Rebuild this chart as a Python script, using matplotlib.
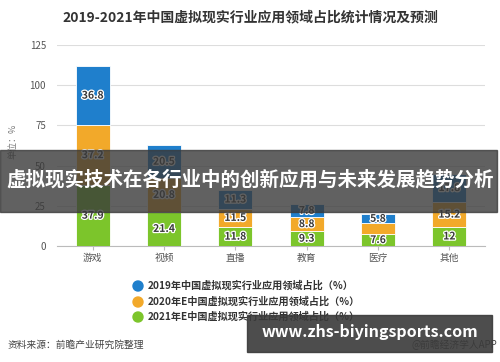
import matplotlib
matplotlib.use("Agg")
import matplotlib.pyplot as plt
import matplotlib.patheffects as pe
from matplotlib.patches import Rectangle, Ellipse
import numpy as np

plt.rcParams['font.family'] = ['Noto Sans CJK SC', 'DejaVu Sans']

categories = ['游戏', '视频', '直播', '教育', '医疗', '其他']
s2021 = [37.9, 21.4, 11.8, 9.3, 7.6, 12]
s2020 = [37.2, 20.8, 11.5, 8.8, 6.5, 15.2]
s2019 = [36.8, 20.5, 11.3, 7.8, 5.8, 17.8]
labels_2020 = ['37.2', '20.8', '11.5', '8.8', '', '15.2']
series_names = ['2019年中国虚拟现实行业应用领域占比（%）',
                '2020年E中国虚拟现实行业应用领域占比（%）',
                '2021年E中国虚拟现实行业应用领域占比（%）']
yticks = [0, 25, 50, 75, 100, 125]

c_blue = '#1f7fcc'
c_orange = '#f2a92a'
c_green = '#7cc52b'

fig = plt.figure(figsize=(5, 3.62), dpi=100)
ax = fig.add_axes([0.114, 0.320, 0.856, 0.556])

x = np.arange(len(categories))
w = 0.48
ax.bar(x, s2021, w, color=c_green, edgecolor='white', linewidth=0.6, zorder=3)
ax.bar(x, s2020, w, bottom=s2021, color=c_orange, edgecolor='white', linewidth=0.6, zorder=3)
bot3 = np.array(s2021) + np.array(s2020)
ax.bar(x, s2019, w, bottom=bot3, color=c_blue, edgecolor='white', linewidth=0.6, zorder=3)

fx = [pe.withStroke(linewidth=1.8, foreground='white')]
for i in range(len(categories)):
    ax.text(x[i], s2021[i] / 2, f'{s2021[i]:g}', ha='center', va='center', fontsize=7.5,
            fontweight='bold', color='#3a3a3a', path_effects=fx, zorder=4)
    if labels_2020[i]:
        ax.text(x[i], s2021[i] + s2020[i] / 2, labels_2020[i], ha='center', va='center',
                fontsize=7.5, fontweight='bold', color='#3a3a3a', path_effects=fx, zorder=4)
    ax.text(x[i], bot3[i] + s2019[i] / 2, f'{s2019[i]:g}', ha='center', va='center',
            fontsize=7.5, fontweight='bold', color='#3a3a3a', path_effects=fx, zorder=4)

ax.set_ylim(0, 125)
ax.set_xlim(-0.5, len(categories) - 0.5)
ax.set_yticks(yticks)
ax.set_xticks(x)
ax.set_xticklabels(categories)
ax.grid(axis='y', color='#dddddd', linewidth=0.8, zorder=0)
for s in ['top', 'right', 'left']:
    ax.spines[s].set_visible(False)
ax.spines['bottom'].set_color('#bbbbbb')
ax.tick_params(axis='y', length=0, labelsize=7, labelcolor='#555555', pad=8)
ax.tick_params(axis='x', length=3, color='#bbbbbb', labelsize=7, labelcolor='#555555', pad=2)

fig.text(0.026, 0.61, '单位：%', rotation=90, ha='center', va='center', fontsize=6.5, color='#777777')

fig.text(0.5, 0.953, '2019-2021年中国虚拟现实行业应用领域占比统计情况及预测', ha='center', va='center',
         fontsize=10, fontweight='bold', color='#333333')

# legend
leg_y = [286, 302, 317]
leg_c = [c_blue, c_orange, c_green]
for yy, cc, nm in zip(leg_y, leg_c, series_names):
    fy = 1 - yy / 362
    fig.patches.append(Ellipse((138 / 500, fy), 10 / 500, 10 / 362,
                               transform=fig.transFigure, color=cc))
    fig.text(148 / 500, fy, nm, ha='left', va='center', fontsize=7.3, fontweight='bold', color='#333333')

fig.text(8 / 500, 1 - 345 / 362, '资料来源：前瞻产业研究院整理', ha='left', va='center', fontsize=7, color='#444444')
fig.text(497 / 500, 1 - 345 / 362, '@前瞻经济学人APP', ha='right', va='center', fontsize=7, color='#444444')

# overlay banner
fig.patches.append(Rectangle((0, 1 - 212 / 362), 497 / 500, 62 / 362, transform=fig.transFigure,
                             color='#3a3a3a', alpha=0.8, zorder=10))
fig.text(0.5, 1 - 180 / 362, '虚拟现实技术在各行业中的创新应用与未来发展趋势分析', ha='center', va='center',
         fontsize=14, fontweight='bold', color='white', zorder=11)

fig.patches.append(Rectangle((247 / 500, 1 - 352 / 362), 245 / 500, 37 / 362, transform=fig.transFigure,
                             color='#3a3a3a', alpha=0.9, zorder=10))
fig.text(370 / 500, 1 - 332 / 362, 'www.zhs-biyingsports.com', ha='center', va='center',
         fontsize=11.5, fontweight='bold', color='white', zorder=11)

fig.savefig('out.png', dpi=100)
